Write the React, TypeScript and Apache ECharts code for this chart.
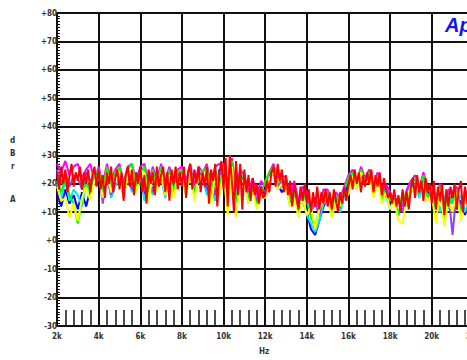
import React, { useEffect, useRef } from "react";
import * as echarts from "echarts";

// Frequency (kHz) start and steps for the sampled traces
const F_START = 2;
const RED_STEP = 0.1;
const STEP = 0.2;

const yTicks = [-30, -20, -10, 0, 10, 20, 30, 40, 50, 60, 70, 80];
const xTickLabels = ["2k", "4k", "6k", "8k", "10k", "12k", "14k", "16k", "18k", "20k", "22k", "24k"];

// dBr A values, red trace sampled every 0.1 kHz from 2 kHz
const red = [
  24, 18, 26, 20, 25, 17, 23, 27, 19, 24,
  21, 26, 18, 24, 20, 25, 17, 23, 26, 19,
  25, 18, 23, 15, 24, 20, 26, 17, 22, 25,
  18, 24, 14, 23, 26, 19, 25, 16, 24, 20,
  26, 17, 23, 13, 25, 20, 24, 16, 26, 19,
  23, 26, 17, 24, 14, 25, 20, 26, 18, 24,
  19, 26, 15, 24, 27, 18, 25, 20, 26, 17,
  24, 19, 26, 13, 25, 21, 27, 12, 24, 28,
  18, 29, 12, 30, 21, 10, 28, 16, 27, 11,
  25, 17, 23, 14, 22, 16, 20, 13, 19, 15,
  16, 21, 17, 24, 26, 19, 27, 21, 25, 17,
  23, 16, 21, 12, 20, 15, 11, 19, 14, 20,
  13, 18, 10, 17, 12, 19, 11, 17, 13, 18,
  12, 17, 11, 18, 14, 10, 17, 13, 19, 14,
  20, 23, 18, 25, 20, 24, 17, 23, 19, 24,
  20, 25, 17, 23, 19, 24, 16, 22, 18, 15,
  17, 13, 18, 12, 16, 10, 18, 12, 17, 11,
  19, 22, 15, 23, 17, 21, 14, 22, 17, 20,
  13, 21, 11, 19, 14, 20, 9, 18, 12, 19,
  15, 20, 11, 18, 21, 10, 19, 13, 20, 12,
  18, 13, 19, 12, 17,
];

// Other traces sampled every 0.2 kHz from 2 kHz
const blue = [
  17, 12, 18, 13, 16, 11, 17, 12, 18, 20, 22, 16, 23, 17, 24, 23, 16, 24, 18, 22,
  24, 15, 23, 17, 24, 22, 16, 24, 18, 23, 24, 17, 25, 16, 23, 23, 17, 24, 14, 25,
  24, 15, 26, 13, 23, 20, 14, 19, 13, 18, 16, 22, 24, 20, 17, 19, 13, 17, 11, 14,
  10, 4, 2, 7, 12, 15, 9, 16, 11, 16, 20, 23, 19, 23, 21, 22, 17, 21, 15, 16,
  12, 15, 9, 14, 13, 18, 20, 16, 21, 17, 16, 12, 15, 10, 13, 16, 11, 14, 9, 15,
  16, 12, 15,
];
const green = [
  21, 17, 22, 16, 13, 6, 14, 21, 17, 23, 25, 18, 26, 19, 24, 26, 18, 25, 27, 19,
  24, 26, 17, 25, 19, 26, 19, 25, 17, 24, 25, 18, 26, 17, 25, 24, 26, 16, 25, 19,
  26, 17, 28, 14, 24, 22, 15, 19, 12, 17, 21, 24, 26, 20, 22, 21, 14, 18, 10, 16,
  14, 8, 5, 11, 15, 17, 10, 16, 13, 18, 22, 24, 19, 25, 21, 24, 18, 23, 15, 18,
  14, 16, 9, 17, 13, 20, 22, 17, 23, 15, 18, 11, 19, 7, 16, 13, 18, 9, 17, 12,
  18, 12, 16,
];
const yellow = [
  19, 14, 15, 8, 13, 7, 15, 19, 14, 21, 23, 15, 24, 17, 22, 24, 15, 23, 25, 17,
  22, 24, 14, 23, 17, 24, 16, 23, 15, 22, 23, 16, 24, 14, 23, 22, 24, 13, 23, 16,
  24, 9, 26, 8, 22, 20, 13, 17, 11, 16, 15, 22, 24, 18, 20, 19, 12, 15, 8, 15,
  9, 12, 4, 11, 14, 15, 8, 14, 12, 17, 16, 23, 18, 24, 20, 22, 15, 21, 13, 17,
  11, 14, 7, 6, 15, 19, 16, 20, 17, 14, 16, 6, 18, 5, 14, 10, 17, 7, 16, 11,
  17, 11, 15,
];
const cyan = [
  20, 15, 21, 14, 18, 16, 12, 20, 17, 22, 24, 17, 23, 15, 19, 22, 15, 23, 17, 24,
  23, 14, 22, 16, 24, 22, 15, 23, 16, 22, 23, 16, 24, 15, 23, 22, 16, 23, 14, 24,
  23, 15, 25, 13, 22, 20, 13, 19, 12, 17, 15, 22, 24, 18, 19, 19, 12, 17, 10, 15,
  9, 6, 3, 7, 13, 14, 10, 15, 10, 15, 17, 22, 18, 23, 20, 22, 16, 21, 14, 16,
  11, 15, 9, 14, 12, 17, 20, 15, 21, 16, 15, 17, 10, 16, 11, 15, 12, 16, 10, 15,
  16, 11, 15,
];
const magenta = [
  27, 24, 28, 23, 26, 27, 22, 25, 27, 21, 26, 20, 27, 21, 25, 27, 20, 26, 27, 21,
  26, 27, 20, 26, 21, 27, 21, 26, 20, 25, 26, 21, 27, 19, 26, 24, 27, 19, 26, 27,
  27, 20, 29, 18, 25, 23, 17, 22, 16, 21, 19, 24, 27, 22, 23, 22, 16, 21, 14, 19,
  17, 12, 15, 11, 18, 18, 13, 17, 15, 19, 23, 25, 20, 26, 22, 25, 19, 24, 17, 20,
  17, 14, 15, 12, 18, 21, 23, 18, 24, 19, 19, 13, 20, 11, 18, 17, 19, 11, 18, 14,
  19, 13, 18,
];
const purple = [
  25, 20, 24, 19, 23, 22, 18, 24, 21, 23, 24, 13, 23, 16, 24, 23, 17, 24, 18, 23,
  24, 18, 23, 17, 24, 23, 17, 24, 18, 23, 24, 18, 23, 17, 24, 23, 18, 24, 16, 23,
  25, 17, 27, 15, 23, 21, 15, 20, 14, 19, 17, 23, 26, 19, 21, 20, 14, 19, 13, 17,
  15, 10, 13, 9, 16, 16, 11, 16, 12, 18, 21, 24, 19, 25, 21, 24, 17, 23, 16, 19,
  16, 13, 14, 10, 17, 20, 22, 17, 23, 18, 18, 12, 19, 10, 17, 2, 18, 11, 17, 13,
  17, 12, 16,
];

const traces: { name: string; color: string; values: number[]; step: number }[] = [
  { name: "magenta", color: "#ff00ff", values: magenta, step: STEP },
  { name: "blue", color: "#0000ff", values: blue, step: STEP },
  { name: "cyan", color: "#00e8ff", values: cyan, step: STEP },
  { name: "purple", color: "#9040ff", values: purple, step: STEP },
  { name: "green", color: "#00ff00", values: green, step: STEP },
  { name: "yellow", color: "#ffff00", values: yellow, step: STEP },
  { name: "red", color: "#ff0000", values: red, step: RED_STEP },
];

const labelFont = "'Liberation Sans Narrow', 'DejaVu Sans Condensed', 'Liberation Sans', sans-serif";

export default function App() {
  const ref = useRef<HTMLDivElement>(null);
  useEffect(() => {
    if (!ref.current) return;
    const chart = echarts.init(ref.current, null, { renderer: "svg" });
    chart.setOption({
      animation: false,
      backgroundColor: "#ffffff",
      grid: { left: 57, top: 13, bottom: 34, width: 458 },
      xAxis: {
        type: "value",
        min: 2,
        max: 24,
        interval: 2,
        axisLine: { show: true, onZero: false, lineStyle: { color: "#111", width: 2 } },
        axisTick: { show: false, inside: true },
        minorTick: { show: true, splitNumber: 5, length: 16, lineStyle: { color: "#111", width: 1.5 } },
        axisLabel: {
          margin: 6,
          fontSize: 8,
          fontWeight: "bold",
          fontFamily: labelFont,
          color: "#333",
          formatter: (v: number) => xTickLabels[Math.round((v - 2) / 2)] ?? "",
        },
        splitLine: { show: true, lineStyle: { color: "#111", width: 2 } },
      },
      yAxis: {
        type: "value",
        min: yTicks[0],
        max: yTicks[yTicks.length - 1],
        interval: 10,
        axisLine: { show: true, onZero: false, lineStyle: { color: "#111", width: 2 } },
        axisTick: { show: false, inside: true },
        minorTick: { show: true, splitNumber: 10, length: 3, lineStyle: { color: "#111", width: 1 } },
        axisLabel: {
          margin: 0,
          fontSize: 8,
          fontWeight: "bold",
          fontFamily: labelFont,
          color: "#333",
          formatter: (v: number) => (v >= 0 ? "+" + v : String(v)),
        },
        splitLine: { show: true, lineStyle: { color: "#111", width: 2 } },
      },
      series: traces.map((t) => ({
        name: t.name,
        type: "line",
        symbol: "none",
        lineStyle: { color: t.color, width: 2 },
        data: t.values.map((v, i) => [F_START + i * t.step, v]),
        z: 3,
      })),
      graphic: [
        { type: "text", left: 10, top: 136, style: { text: "d", fontSize: 8, fontWeight: "bold", fontFamily: labelFont, fill: "#333" } },
        { type: "text", left: 10, top: 149, style: { text: "B", fontSize: 8, fontWeight: "bold", fontFamily: labelFont, fill: "#333" } },
        { type: "text", left: 11, top: 162, style: { text: "r", fontSize: 8, fontWeight: "bold", fontFamily: labelFont, fill: "#333" } },
        { type: "text", left: 10, top: 195, style: { text: "A", fontSize: 8, fontWeight: "bold", fontFamily: labelFont, fill: "#333" } },
        { type: "text", left: 259, top: 347, style: { text: "Hz", fontSize: 8, fontWeight: "bold", fontFamily: labelFont, fill: "#333" } },
        { type: "text", left: 445, top: 15, style: { text: "Ap", fontSize: 20, fontWeight: "bold", fontStyle: "italic", fontFamily: "'Liberation Sans', Arial, sans-serif", fill: "#1414f0" } },
      ],
    });
    return () => chart.dispose();
  }, []);
  return (
    <div style={{ position: "fixed", left: 0, top: 0, width: 467, height: 360, overflow: "hidden", background: "#fff" }}>
      <div ref={ref} style={{ width: 530, height: 360 }} />
    </div>
  );
}
